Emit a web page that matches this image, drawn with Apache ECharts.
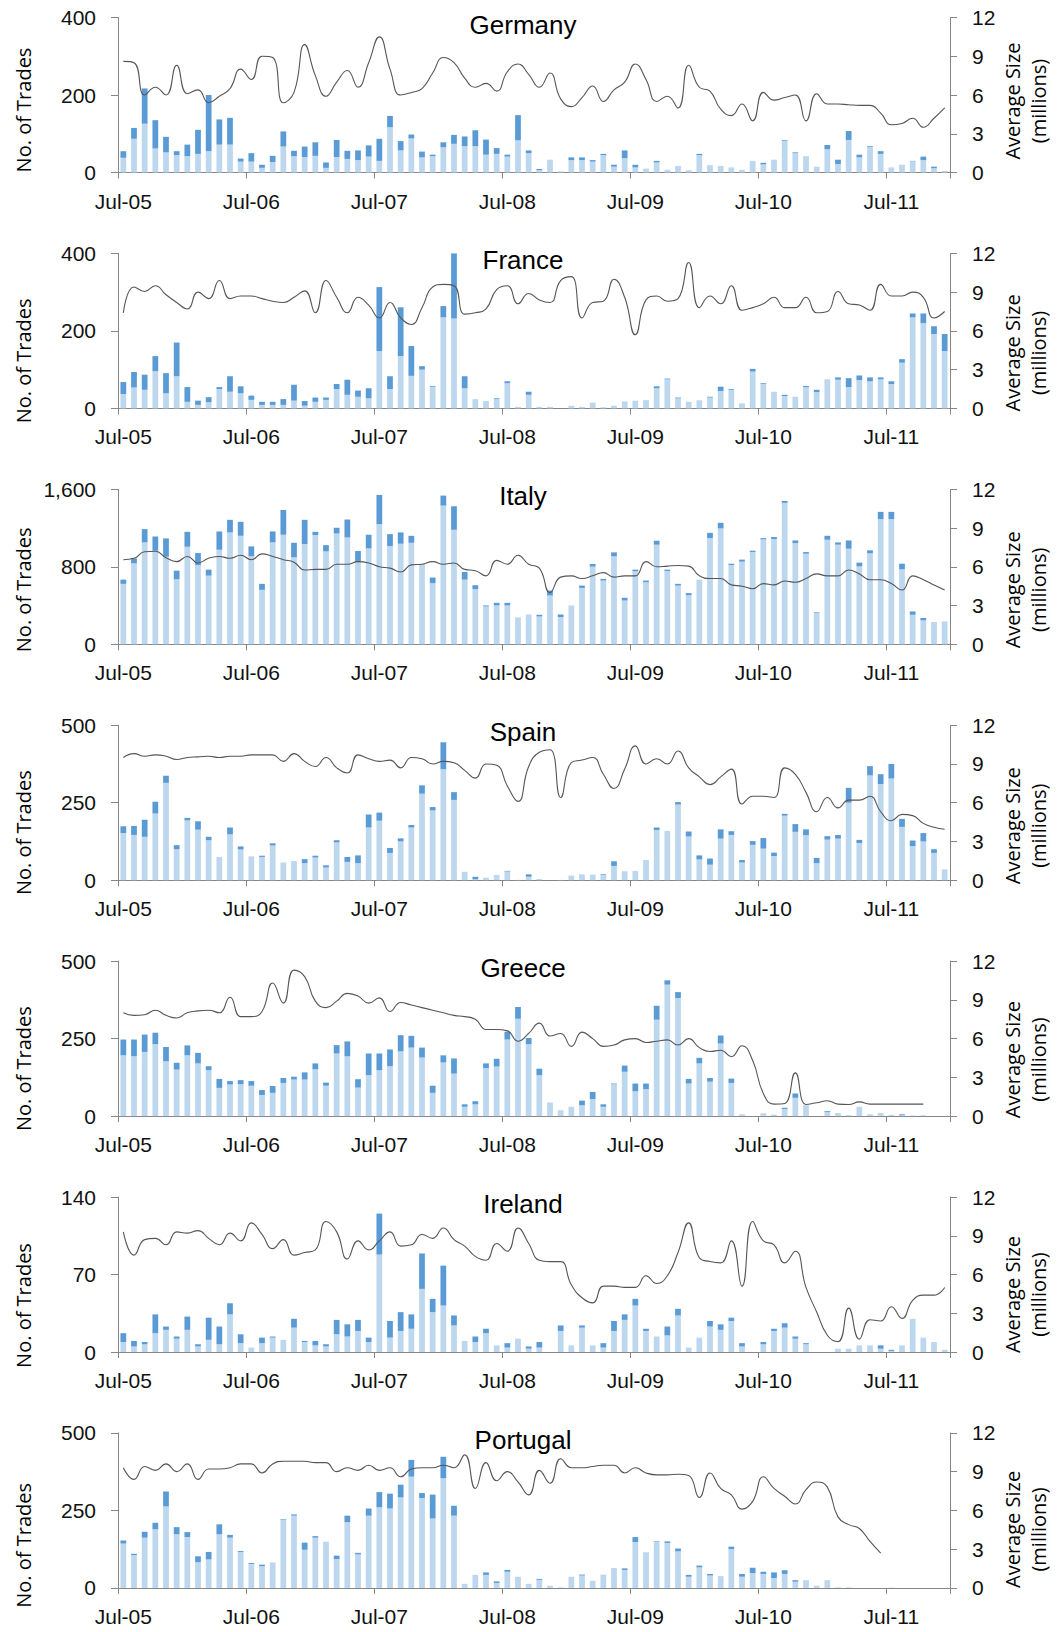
<!DOCTYPE html>
<html><head><meta charset="utf-8">
<script src="https://cdn.jsdelivr.net/npm/echarts@6/dist/echarts.min.js"></script>
<style>html,body{margin:0;padding:0;background:#fff}#c{width:1057px;height:1632px}</style>
</head><body><div id="c"></div>
<script>
const months = ['Jul-05','Aug-05','Sep-05','Oct-05','Nov-05','Dec-05',
'Jan-06','Feb-06','Mar-06','Apr-06','May-06','Jun-06','Jul-06','Aug-06','Sep-06','Oct-06','Nov-06','Dec-06',
'Jan-07','Feb-07','Mar-07','Apr-07','May-07','Jun-07','Jul-07','Aug-07','Sep-07','Oct-07','Nov-07','Dec-07',
'Jan-08','Feb-08','Mar-08','Apr-08','May-08','Jun-08','Jul-08','Aug-08','Sep-08','Oct-08','Nov-08','Dec-08',
'Jan-09','Feb-09','Mar-09','Apr-09','May-09','Jun-09','Jul-09','Aug-09','Sep-09','Oct-09','Nov-09','Dec-09',
'Jan-10','Feb-10','Mar-10','Apr-10','May-10','Jun-10','Jul-10','Aug-10','Sep-10','Oct-10','Nov-10','Dec-10',
'Jan-11','Feb-11','Mar-11','Apr-11','May-11','Jun-11','Jul-11','Aug-11','Sep-11','Oct-11','Nov-11','Dec-11'];

const countries = ['Germany','France','Italy','Spain','Greece','Ireland','Portugal'];
const leftMax = [400,400,1600,500,500,140,500];
const leftInterval = [200,200,800,250,250,70,250];
const rightMax = 12, rightInterval = 3;

// light (lower) and dark (upper) bar segments, average size line
const germanyLight = [38,87,126,62,52,45,42,48,55,72,72,28,28,12,27,67,42,40,43,12,40,35,32,41,30,117,57,88,39,42,65,74,68,68,46,48,41,83,50,6,33,3,32,32,28,45,15,37,13,10,26,7,17,6,45,19,17,13,7,30,21,33,82,50,42,15,60,22,84,39,66,48,13,20,29,32,11,4];
const germanyDark = [17,28,91,73,40,10,30,62,145,65,69,8,22,8,16,39,14,27,35,14,44,21,25,29,57,29,24,10,15,4,13,23,25,41,39,15,5,65,7,3,0,0,7,7,4,3,5,20,7,0,4,0,0,0,3,0,0,0,0,0,4,0,2,2,0,0,11,11,23,7,2,7,0,0,1,9,4,0];
const germanySize = [8.6,8.5,6.0,6.6,6.0,8.3,6.1,6.4,5.4,5.9,6.5,8.0,7.2,9.0,8.9,5.4,6.2,9.9,7.5,5.9,7.0,7.9,6.6,8.5,10.5,8.0,6.0,6.2,6.5,7.7,8.9,8.5,7.3,6.6,6.9,6.3,7.8,8.4,7.6,6.6,7.7,5.7,5.1,5.8,6.7,5.5,6.4,7.0,8.4,7.2,5.5,5.9,5.0,8.3,6.6,6.3,4.9,4.4,5.3,4.0,6.2,5.6,5.8,6.0,4.0,6.1,5.3,5.3,5.25,5.2,5.2,4.6,3.7,3.8,4.2,3.5,4.2,5.0];

const franceLight = [37,54,48,96,39,83,17,9,16,50,43,39,22,9,9,9,20,7,17,22,50,35,30,26,148,50,135,84,100,56,235,232,52,24,19,24,65,4,35,4,4,0,7,4,15,3,7,18,20,19,52,75,26,17,21,28,45,48,13,95,63,43,32,30,55,42,75,74,55,73,70,75,63,118,235,220,192,148];
const franceDark = [31,40,39,39,52,87,38,11,13,5,40,18,11,8,8,15,41,12,11,6,13,39,16,26,165,33,126,77,9,2,29,171,31,0,0,2,5,0,8,0,0,0,0,0,0,0,0,0,0,1,5,2,2,0,0,2,11,2,0,7,2,0,3,0,3,6,0,6,23,12,10,5,7,9,10,25,20,44];
const franceSize = [7.4,9.4,9.05,9.5,8.8,8.2,7.7,9.0,8.5,9.9,8.5,8.7,8.7,8.5,8.3,8.2,8.6,9.1,7.4,9.9,8.6,7.4,8.6,8.0,7.0,8.2,7.0,6.5,7.8,9.4,9.6,9.5,7.3,7.4,7.7,9.2,9.5,8.1,8.9,8.4,8.2,9.9,10.2,7.0,8.2,8.3,10.0,8.6,5.7,8.4,8.7,8.3,8.5,11.3,7.8,8.7,8.1,9.5,7.6,7.8,8.1,8.6,7.8,7.8,8.6,7.4,7.5,9.05,8.1,8.0,7.6,9.6,8.7,8.7,9.0,8.6,7.0,7.5];

const italyLight = [624,836,1052,966,904,671,1007,819,709,976,1155,1120,908,562,1052,1131,898,1035,1127,959,1144,1103,853,990,1240,1014,1038,1048,829,630,1432,1182,668,569,391,401,401,278,308,288,504,281,401,582,802,658,908,452,754,641,1028,757,606,507,668,1096,1196,819,853,952,1083,1086,1460,1045,935,322,1079,1028,987,805,939,1292,1292,774,305,247,230,236];
const italyDark = [44,51,137,147,189,89,154,123,62,189,130,144,103,62,113,256,150,250,34,65,59,185,110,141,302,123,117,72,0,59,103,243,79,41,10,27,27,0,0,17,51,27,0,24,27,17,41,28,17,17,41,14,18,21,0,55,58,13,21,14,13,21,20,27,17,7,41,24,85,38,31,75,75,58,34,24,0,0];
const italySize = [6.55,6.66,7.17,7.2,6.7,6.4,6.8,6.3,6.66,6.8,6.66,6.9,6.55,7.0,6.8,6.55,6.35,5.75,5.8,5.8,6.2,6.2,6.4,6.3,6.0,5.9,5.6,6.15,6.2,6.4,6.2,6.3,5.8,5.7,5.3,6.5,6.2,6.9,6.2,5.9,4.0,5.2,5.3,5.1,5.3,5.55,5.2,5.3,5.3,6.4,6.0,6.05,6.1,6.05,5.3,5.1,5.1,4.6,4.5,4.3,4.7,4.6,4.9,4.8,5.1,5.45,5.3,5.3,5.75,5.45,5.0,5.0,4.7,4.2,5.3,5.0,4.6,4.2];

const spainLight = [152,146,140,215,314,100,193,163,129,75,148,99,77,75,112,57,62,55,73,41,122,59,55,170,192,88,125,170,279,225,358,259,27,3,8,17,28,1,11,4,0,1,15,19,18,18,46,29,30,65,162,159,244,141,67,50,134,146,57,114,102,78,208,156,145,55,131,134,250,120,338,310,328,172,110,125,88,35];
const spainDark = [22,29,55,38,23,13,8,27,11,0,22,10,0,4,7,0,0,13,6,7,7,16,25,42,26,16,10,8,27,11,87,25,0,8,0,0,2,0,8,0,0,0,0,0,0,2,15,0,0,0,8,0,8,16,13,20,30,12,8,12,34,11,6,25,19,17,11,12,48,10,30,32,47,26,18,27,12,0];
const spainSize = [9.5,9.8,9.6,9.7,9.6,9.35,9.5,9.55,9.6,9.5,9.6,9.6,9.7,9.7,9.7,9.2,9.8,9.2,8.8,9.5,8.7,8.3,9.7,9.4,9.2,9.3,8.7,9.5,9.4,9.0,9.2,9.1,8.5,7.9,9.0,8.9,7.3,6.1,8.8,9.9,10.1,6.4,9.1,9.3,9.5,8.2,7.1,8.6,10.4,9.0,9.4,9.0,10.0,8.7,8.0,7.4,8.0,8.6,5.9,6.5,6.5,6.4,8.7,8.2,6.8,5.3,6.4,5.6,6.2,6.2,6.5,5.3,4.6,5.1,5.0,4.4,4.1,3.95];

const greeceLight = [196,193,207,232,177,150,196,170,148,91,102,103,98,68,75,107,118,118,151,98,202,193,92,132,148,161,209,221,189,75,173,137,30,38,155,160,247,314,232,132,44,19,30,35,55,30,103,143,80,87,311,424,381,105,170,111,234,107,6,0,9,5,23,59,35,0,13,10,3,30,6,10,4,3,2,3,0,0];
const greeceDark = [51,54,56,37,46,22,32,34,13,29,11,13,15,16,22,16,9,23,19,10,27,48,27,70,54,54,52,38,32,23,23,49,8,10,15,25,25,38,20,21,0,0,0,15,23,8,2,20,25,18,45,14,19,15,18,12,26,14,0,0,0,0,4,14,0,0,3,0,0,0,0,0,0,3,0,0,0,0];
const greeceSize = [8.0,7.8,7.85,8.2,7.8,7.6,8.0,8.15,8.2,8.0,9.2,7.7,7.7,8.1,10.3,8.75,11.3,10.8,8.9,8.4,8.9,9.5,9.3,8.75,9.15,8.1,8.8,8.6,8.4,8.2,8.0,7.8,7.7,7.5,6.7,6.7,6.6,5.8,6.4,7.2,6.2,6.4,5.4,6.5,6.0,5.4,5.5,5.9,6.0,5.7,5.8,5.9,5.5,6.0,5.3,5.0,5.1,4.6,5.45,4.3,1.75,0.93,0.98,3.35,0.9,1.03,1.19,0.93,0.9,1.1,0.93,0.93,0.93,0.93,0.93,0.93,null,null];

const irelandLight = [9,5,7,17,20,12,20,5,11,7,34,8,4,8,13,11,22,9,6,5,16,14,19,9,88,13,19,21,57,36,42,24,10,9,17,6,4,12,3,4,0,19,6,22,6,4,19,29,42,19,14,15,33,4,13,23,20,28,5,0,7,19,22,12,7,0,0,3,3,6,6,3,1,6,30,13,9,2];
const irelandDark = [8,5,2,17,3,2,12,2,20,16,10,8,0,5,1,0,8,1,4,2,13,11,10,4,37,15,17,13,32,12,36,9,0,5,4,0,4,0,2,5,0,5,0,2,0,4,9,5,6,2,0,8,6,0,0,5,5,3,3,0,2,2,4,2,1,0,0,0,0,0,0,3,1,0,0,0,0,0];
const irelandSize = [9.3,7.5,8.7,8.8,8.3,9.3,9.2,9.4,8.8,8.3,9.2,8.6,10.0,9.1,8.0,8.7,7.5,7.7,7.9,10.1,9.3,7.2,8.6,7.9,8.6,9.3,8.2,8.3,9.1,8.8,9.6,8.7,8.2,7.4,7.1,8.4,7.8,9.6,8.4,7.1,7.0,7.0,5.2,4.2,3.8,5.1,5.1,5.0,5.0,5.9,5.3,5.9,7.7,10.0,7.3,7.0,6.9,8.6,5.1,10.1,8.6,8.3,6.9,7.8,5.0,3.1,1.3,0.8,3.4,1.0,2.5,2.4,3.5,2.6,4.0,4.4,4.4,5.0];

const portugalLight = [143,106,162,189,263,173,164,83,92,173,162,116,77,70,82,220,233,123,162,149,93,212,108,233,260,256,292,359,290,224,354,233,13,42,42,16,52,36,13,26,7,2,36,40,23,43,64,58,148,115,148,145,118,36,66,40,38,125,36,48,45,32,45,20,25,7,25,2,2,0,0,0,1,0,0,0,0,0];
const portugalDark = [10,4,19,21,48,23,16,19,24,32,9,3,3,5,0,2,4,23,5,0,11,21,5,23,49,48,41,54,16,77,69,32,0,0,8,5,6,0,0,3,0,0,0,3,0,0,0,5,16,0,2,5,9,6,6,5,0,8,9,17,7,18,12,5,0,0,0,0,0,0,0,0,0,0,0,0,0,0];
const portugalSize = [9.3,8.4,9.4,9.1,9.6,9.0,9.6,8.4,9.2,9.2,9.3,9.6,9.6,8.9,9.6,9.8,9.8,9.8,9.7,9.7,9.0,9.3,9.1,9.5,9.1,9.3,8.6,9.2,9.3,9.3,9.5,9.3,10.3,7.7,9.7,8.3,9.0,8.2,7.2,9.1,8.1,10.0,9.3,9.3,9.4,9.5,9.5,8.9,9.3,8.9,8.75,8.75,8.8,8.7,7.0,8.9,7.7,7.2,6.1,6.7,8.6,7.7,7.1,6.5,7.6,8.2,7.8,5.5,4.9,4.6,3.6,2.7,null,null,null,null,null,null];

const lights = [germanyLight,franceLight,italyLight,spainLight,greeceLight,irelandLight,portugalLight];
const darks = [germanyDark,franceDark,italyDark,spainDark,greeceDark,irelandDark,portugalDark];
const sizes = [germanySize,franceSize,italySize,spainSize,greeceSize,irelandSize,portugalSize];

// layout
const GL = 118, GR = 107, TOP0 = 17.5, STEP = 235.9, PH = 155;
const leftNameOff = [15,30,23,30,30,31,35];
const rightNameOff = [6,22,23,23,21,20,19];
const numFont = 'Liberation Sans, Arial, sans-serif';
const nameFont = 'Open Sans, DejaVu Sans, sans-serif';
const axisGray = '#868686';

const grids = [], xAxes = [], yAxes = [], series = [], graphics = [];
countries.forEach((c, i) => {
  const top = TOP0 + STEP * i;
  grids.push({left: GL, right: GR, top: top, height: PH});
  xAxes.push({
    gridIndex: i, type: 'category', data: months, boundaryGap: true,
    axisLine: {lineStyle: {color: axisGray, width: 1}},
    axisTick: {show: true, interval: 11, length: 6, lineStyle: {color: axisGray}},
    axisLabel: {interval: 11, margin: 18, fontSize: 21, color: '#111', fontFamily: numFont},
    splitLine: {show: false}
  });
  yAxes.push({
    gridIndex: i, type: 'value', position: 'left', min: 0, max: leftMax[i], interval: leftInterval[i],
    axisLine: {show: true, lineStyle: {color: axisGray}},
    axisTick: {show: true, length: 7, inside: false, lineStyle: {color: axisGray}},
    axisLabel: {margin: 22, fontSize: 21, color: '#111', fontFamily: numFont,
      formatter: v => v.toLocaleString('en-US')},
    splitLine: {show: false}
  });
  yAxes.push({
    gridIndex: i, type: 'value', position: 'right', min: 0, max: rightMax, interval: rightInterval,
    axisLine: {show: true, lineStyle: {color: axisGray}},
    axisTick: {show: true, length: 7, lineStyle: {color: axisGray}},
    axisLabel: {margin: 22, fontSize: 21, color: '#111', fontFamily: numFont},
    splitLine: {show: false}
  });
  series.push({
    type: 'bar', xAxisIndex: i, yAxisIndex: 2 * i, stack: 'st' + i, data: lights[i],
    barCategoryGap: '46%', itemStyle: {color: '#BDD7EE'}, silent: true, animation: false
  });
  series.push({
    type: 'bar', xAxisIndex: i, yAxisIndex: 2 * i, stack: 'st' + i, data: darks[i],
    barCategoryGap: '46%', itemStyle: {color: '#5B9BD5'}, silent: true, animation: false
  });
  series.push({
    type: 'line', xAxisIndex: i, yAxisIndex: 2 * i + 1, data: sizes[i], smooth: 0.5,
    symbol: 'none', lineStyle: {color: '#555', width: 1.1}, silent: true, animation: false
  });
  const mid = top + PH / 2;
  graphics.push({type: 'text', x: 523, y: top + 7, z: 100,
    style: {text: c, fontSize: 26, fontFamily: numFont, fill: '#000', align: 'center', verticalAlign: 'middle'}});
  graphics.push({type: 'text', x: 23, y: mid + leftNameOff[i], rotation: Math.PI / 2,
    style: {text: 'No. of Trades', fontSize: 20, fontFamily: nameFont, fill: '#000', align: 'center', verticalAlign: 'middle'}});
  graphics.push({type: 'text', x: 1025, y: mid + rightNameOff[i], rotation: Math.PI / 2,
    style: {text: 'Average Size\n(millions)', fontSize: 20, lineHeight: 26, fontFamily: nameFont, fill: '#000', align: 'center', verticalAlign: 'middle'}});
});

const chart = echarts.init(document.getElementById('c'), null, {renderer: 'svg', width: 1057, height: 1632});
chart.setOption({
  animation: false,
  backgroundColor: '#fff',
  grid: grids, xAxis: xAxes, yAxis: yAxes, series: series, graphic: graphics
});
</script></body></html>
